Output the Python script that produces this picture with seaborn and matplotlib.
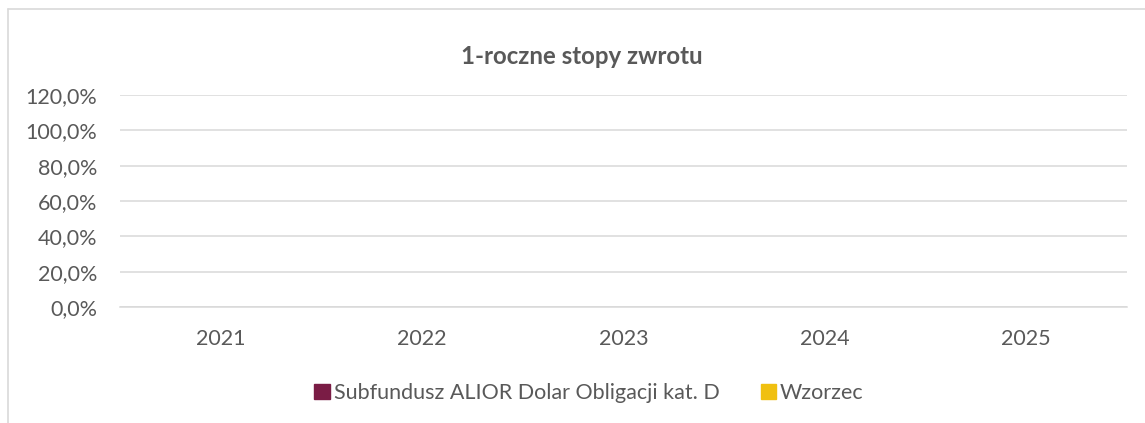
import matplotlib
matplotlib.use("Agg")
import matplotlib.pyplot as plt
import seaborn as sns
import pandas as pd
import numpy as np
from matplotlib.patches import Patch
from matplotlib.lines import Line2D
from matplotlib.ticker import FuncFormatter, FixedLocator

# ---- data ----
years = ["2021", "2022", "2023", "2024", "2025"]
series_names = ["Subfundusz ALIOR Dolar Obligacji kat. D", "Wzorzec"]
fund_values = [0.0, 0.0, 0.0, 0.0, 0.0]
benchmark_values = [0.0, 0.0, 0.0, 0.0, 0.0]
colors = ["#7a1c45", "#f0c010"]
title = "1-roczne stopy zwrotu"

df = pd.DataFrame({
    "year": years * 2,
    "series": [series_names[0]] * len(years) + [series_names[1]] * len(years),
    "value": fund_values + benchmark_values,
})

sns.set_theme(style="white")
plt.rcParams["font.family"] = ["Lato", "DejaVu Sans"]

W, H = 1145, 423
fig = plt.figure(figsize=(W / 100, H / 100), dpi=100)
ax = fig.add_axes([120 / W, (H - 307) / H, (1127 - 120) / W, (307 - 95) / H])

sns.barplot(data=df, x="year", y="value", hue="series", order=years,
            hue_order=series_names, palette=colors, ax=ax, linewidth=0,
            legend=False)

grey = "#595959"
grid = "#d9d9d9"
fs = 15.5
ax.set_ylim(0, 1.2)
ax.set_xlim(-0.5, len(years) - 0.5)
ax.set_yticks(np.arange(0, 1.21, 0.2))
ax.yaxis.set_major_formatter(FuncFormatter(lambda v, p: f"{v*100:.1f}%".replace(".", ",")))
ax.grid(axis="y", color=grid, linewidth=1.1)
ax.set_axisbelow(True)
for s in ["top", "right", "left"]:
    ax.spines[s].set_visible(False)
ax.spines["bottom"].set_color(grid)
ax.spines["bottom"].set_linewidth(1.1)
ax.set_xlabel("")
ax.set_ylabel("")
ax.tick_params(axis="y", length=0, pad=16.5, labelsize=fs, labelcolor=grey)
ax.tick_params(axis="x", which="major", direction="in", length=3.5, width=1.1,
               color=grid, pad=16, labelsize=fs, labelcolor=grey)
ax.xaxis.set_minor_locator(FixedLocator([-0.5, len(years) - 0.5]))
ax.tick_params(axis="x", which="minor", direction="in", length=3.5, width=1.1, color=grid)

fig.text(582 / W, 1 - 57 / H, title, ha="center", va="center",
         fontsize=17.3, fontweight="bold", color=grey)

handles = [Patch(facecolor=c, edgecolor=c) for c in colors]
fig.legend(handles, series_names, loc="center", bbox_to_anchor=(589 / W, 1 - 393 / H),
           ncol=2, frameon=False, fontsize=fs, labelcolor=grey,
           handlelength=0.7, handleheight=0.7, handletextpad=0.2, columnspacing=1.9)

# outer chart frame (top and left edges visible)
fig.add_artist(Line2D([8 / W, 1.0], [1 - 9 / H, 1 - 9 / H], color=grid, lw=1.2,
                      transform=fig.transFigure))
fig.add_artist(Line2D([8 / W, 8 / W], [0, 1 - 9 / H], color=grid, lw=1.2,
                      transform=fig.transFigure))

fig.savefig("out.png", dpi=100)
